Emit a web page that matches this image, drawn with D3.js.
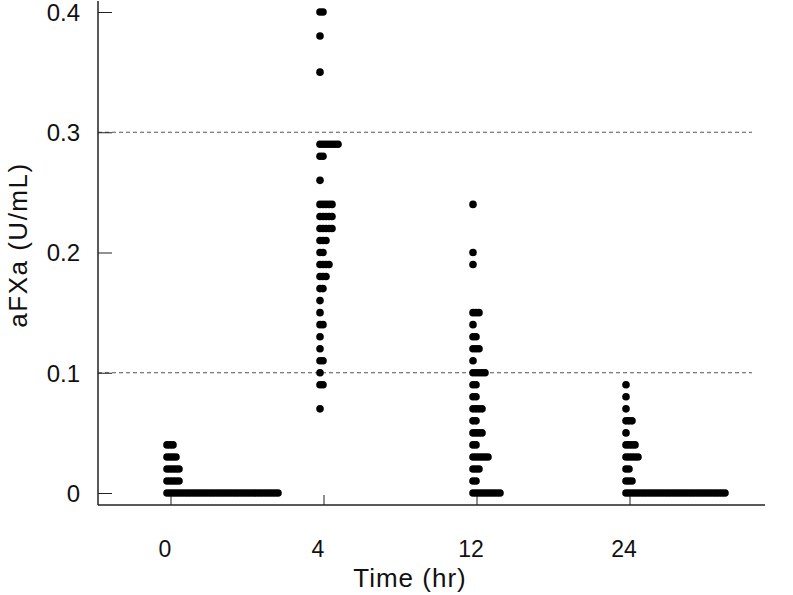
<!DOCTYPE html>
<html>
<head>
<meta charset="utf-8">
<script src="https://cdn.jsdelivr.net/npm/d3@7"></script>
<style>
  body { margin: 0; background: #fff; }
  text { font-family: "Liberation Sans", Arial, sans-serif; fill: #111; }
</style>
</head>
<body>
<script>

// categories
const times = ["0", "4", "12", "24"];

// value levels (U/mL) and how many patients sit at each level
const vals0 = [0.04, 0.03, 0.02, 0.01, 0];
const counts0 = [3, 4, 5, 5, 38];

const vals4 = [0.40, 0.38, 0.35, 0.29, 0.28, 0.26, 0.24, 0.23, 0.22, 0.21, 0.20, 0.19,
  0.18, 0.17, 0.16, 0.15, 0.14, 0.13, 0.12, 0.11, 0.10, 0.09, 0.07];
const counts4 = [2, 1, 1, 7, 2, 1, 5, 5, 5, 3, 2, 4, 3, 2, 1, 1, 2, 1, 1, 2, 1, 2, 1];

const vals12 = [0.24, 0.20, 0.19, 0.15, 0.14, 0.13, 0.12, 0.11, 0.10, 0.09, 0.08, 0.07,
  0.06, 0.05, 0.04, 0.03, 0.02, 0.01, 0];
const counts12 = [1, 1, 1, 3, 1, 2, 3, 1, 5, 2, 2, 4, 2, 4, 2, 6, 3, 2, 10];

const vals24 = [0.09, 0.08, 0.07, 0.06, 0.05, 0.04, 0.03, 0.02, 0.01, 0];
const counts24 = [1, 1, 1, 3, 1, 4, 5, 2, 3, 34];

const yTicks = [0, 0.1, 0.2, 0.3, 0.4];
const refLines = [0.1, 0.3];

const groups = [
  { t: "0", vals: vals0, counts: counts0 },
  { t: "4", vals: vals4, counts: counts4 },
  { t: "12", vals: vals12, counts: counts12 },
  { t: "24", vals: vals24, counts: counts24 }
];

const W = 793, H = 595;
const axisX = 98, axisY = 505;

const svg = d3.select('body').append('svg')
    .attr('width', W)
    .attr('height', H);

const x = d3.scalePoint()
    .domain(times)
    .range([167, 626]);

const y = d3.scaleLinear()
    .domain([0, 0.4])
    .range([493, 12]);

// dashed reference lines
svg.selectAll('line.ref')
  .data(refLines)
  .join('line')
    .attr('class', 'ref')
    .attr('x1', axisX)
    .attr('x2', 752)
    .attr('y1', d => y(d))
    .attr('y2', d => y(d))
    .attr('stroke', '#555')
    .attr('stroke-width', 1)
    .attr('stroke-dasharray', '4,3');

// y axis, ticks pointing inward
const yAxis = svg.append('g')
    .attr('transform', `translate(${axisX},0)`)
    .call(d3.axisRight(y).tickValues(yTicks).tickSize(14).tickFormat(d => d === 0 ? '0' : d3.format('.1f')(d)));
yAxis.select('.domain').remove();
yAxis.selectAll('.tick line').attr('stroke', '#222');
yAxis.selectAll('.tick text')
    .attr('x', -18)
    .attr('dy', '0.35em')
    .attr('text-anchor', 'end')
    .style('font-size', '24px');

svg.append('line')
    .attr('x1', axisX).attr('x2', axisX)
    .attr('y1', 1).attr('y2', axisY)
    .attr('stroke', '#222').attr('stroke-width', 1.5);

svg.append('line')
    .attr('x1', axisX).attr('x2', 765)
    .attr('y1', axisY).attr('y2', axisY)
    .attr('stroke', '#222').attr('stroke-width', 1.5);

// x ticks and labels
const xg = svg.append('g');
xg.selectAll('line')
  .data(times)
  .join('line')
    .attr('x1', d => x(d) + 4)
    .attr('x2', d => x(d) + 4)
    .attr('y1', axisY)
    .attr('y2', axisY - 10)
    .attr('stroke', '#222');
xg.selectAll('text')
  .data(times)
  .join('text')
    .attr('x', d => x(d) - 2)
    .attr('y', 557)
    .attr('text-anchor', 'middle')
    .style('font-size', '23px')
    .text(d => d);

// dots: stacked sideways at each level
const dotGap = 3;
const points = [];
groups.forEach(g => {
  g.vals.forEach((v, i) => {
    for (let k = 0; k < g.counts[i]; k++) points.push({ t: g.t, v: v, k: k });
  });
});

svg.append('g')
  .selectAll('circle')
  .data(points)
  .join('circle')
    .attr('cx', d => x(d.t) + d.k * dotGap)
    .attr('cy', d => y(d.v))
    .attr('r', 3.8)
    .attr('fill', '#000');

// axis titles
svg.append('text')
    .attr('x', 410)
    .attr('y', 587)
    .attr('text-anchor', 'middle')
    .style('font-size', '26px')
    .style('letter-spacing', '1px')
    .text('Time (hr)');

svg.append('text')
    .attr('transform', 'translate(27,245) rotate(-90)')
    .attr('text-anchor', 'middle')
    .style('font-size', '26px')
    .style('letter-spacing', '1.5px')
    .text('aFXa (U/mL)');

</script>
</body>
</html>
